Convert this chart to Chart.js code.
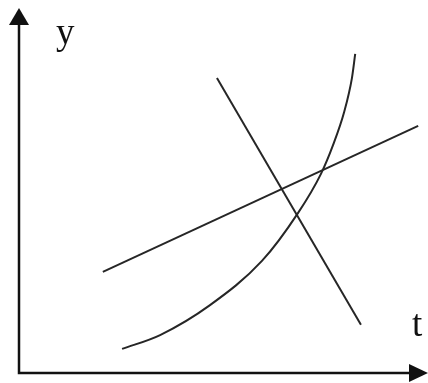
<!DOCTYPE html>
<html>
<head>
<meta charset="utf-8">
<script src="https://cdn.jsdelivr.net/npm/chart.js@4/dist/chart.umd.min.js"></script>
<style>
  html, body { margin: 0; padding: 0; background: #fff; }
  #wrap { position: relative; width: 428px; height: 383px; }
</style>
</head>
<body>
<div id="wrap"><canvas id="sketch"></canvas></div>
<script>
// values, in axis units (t and y both run 0..10)
var risingT = [2.05, 9.76];
var risingY = [2.77, 6.77];

var fallingT = [4.84, 8.36];
var fallingY = [8.08, 1.32];

var curveT = [2.52, 3.45, 4.67, 5.94, 6.82, 7.38, 7.68, 7.95, 8.14, 8.22];
var curveY = [0.66, 1.04, 1.86, 3.07, 4.38, 5.45, 6.25, 7.15, 8.08, 8.74];

var axisLabels = ['t', 'y'];

function toPoints(ts, ys) {
  var pts = [];
  for (var i = 0; i < ts.length; i++) {
    pts.push({x: ts[i], y: ys[i]});
  }
  return pts;
}

// axes with arrow heads and the two letters
var axesPlugin = {
  id: 'axes',
  afterDatasetsDraw: function(chart) {
    var ctx = chart.ctx;
    var a = chart.chartArea;
    ctx.save();
    ctx.strokeStyle = '#111';
    ctx.fillStyle = '#111';
    ctx.lineWidth = 2.5;
    ctx.beginPath();
    ctx.moveTo(a.left, a.top + 12);
    ctx.lineTo(a.left, a.bottom);
    ctx.lineTo(a.right - 12, a.bottom);
    ctx.stroke();

    // up arrow
    ctx.beginPath();
    ctx.moveTo(a.left, a.top);
    ctx.lineTo(a.left - 10, a.top + 17);
    ctx.lineTo(a.left + 10, a.top + 17);
    ctx.closePath();
    ctx.fill();

    // right arrow
    ctx.beginPath();
    ctx.moveTo(a.right, a.bottom);
    ctx.lineTo(a.right - 19, a.bottom - 9);
    ctx.lineTo(a.right - 19, a.bottom + 9);
    ctx.closePath();
    ctx.fill();

    ctx.font = '37px "Liberation Serif", serif';
    ctx.textBaseline = 'alphabetic';
    ctx.textAlign = 'left';
    ctx.fillText(axisLabels[1], a.left + 37, 44);
    ctx.fillText(axisLabels[0], a.right - 16, 336);
    ctx.restore();
  }
};

var lineStyle = {
  borderColor: '#262626',
  borderWidth: 2,
  pointRadius: 0,
  fill: false,
  showLine: true
};

var ctx = document.getElementById('sketch').getContext('2d');
var chart = new Chart(ctx, {
  type: 'scatter',
  data: {
    datasets: [
      Object.assign({ label: 'rising', data: toPoints(risingT, risingY), tension: 0 }, lineStyle),
      Object.assign({ label: 'falling', data: toPoints(fallingT, fallingY), tension: 0 }, lineStyle),
      Object.assign({ label: 'curve', data: toPoints(curveT, curveY), cubicInterpolationMode: 'monotone' }, lineStyle)
    ]
  },
  options: {
    responsive: true,
    maintainAspectRatio: false,
    animation: false,
    layout: {
      padding: { left: 19, top: 8, right: 0, bottom: 10 }
    },
    plugins: {
      legend: { display: false },
      tooltip: { enabled: false }
    },
    scales: {
      x: { type: 'linear', min: 0, max: 10, display: false },
      y: { type: 'linear', min: 0, max: 10, display: false }
    }
  },
  plugins: [axesPlugin]
});
</script>
</body>
</html>
